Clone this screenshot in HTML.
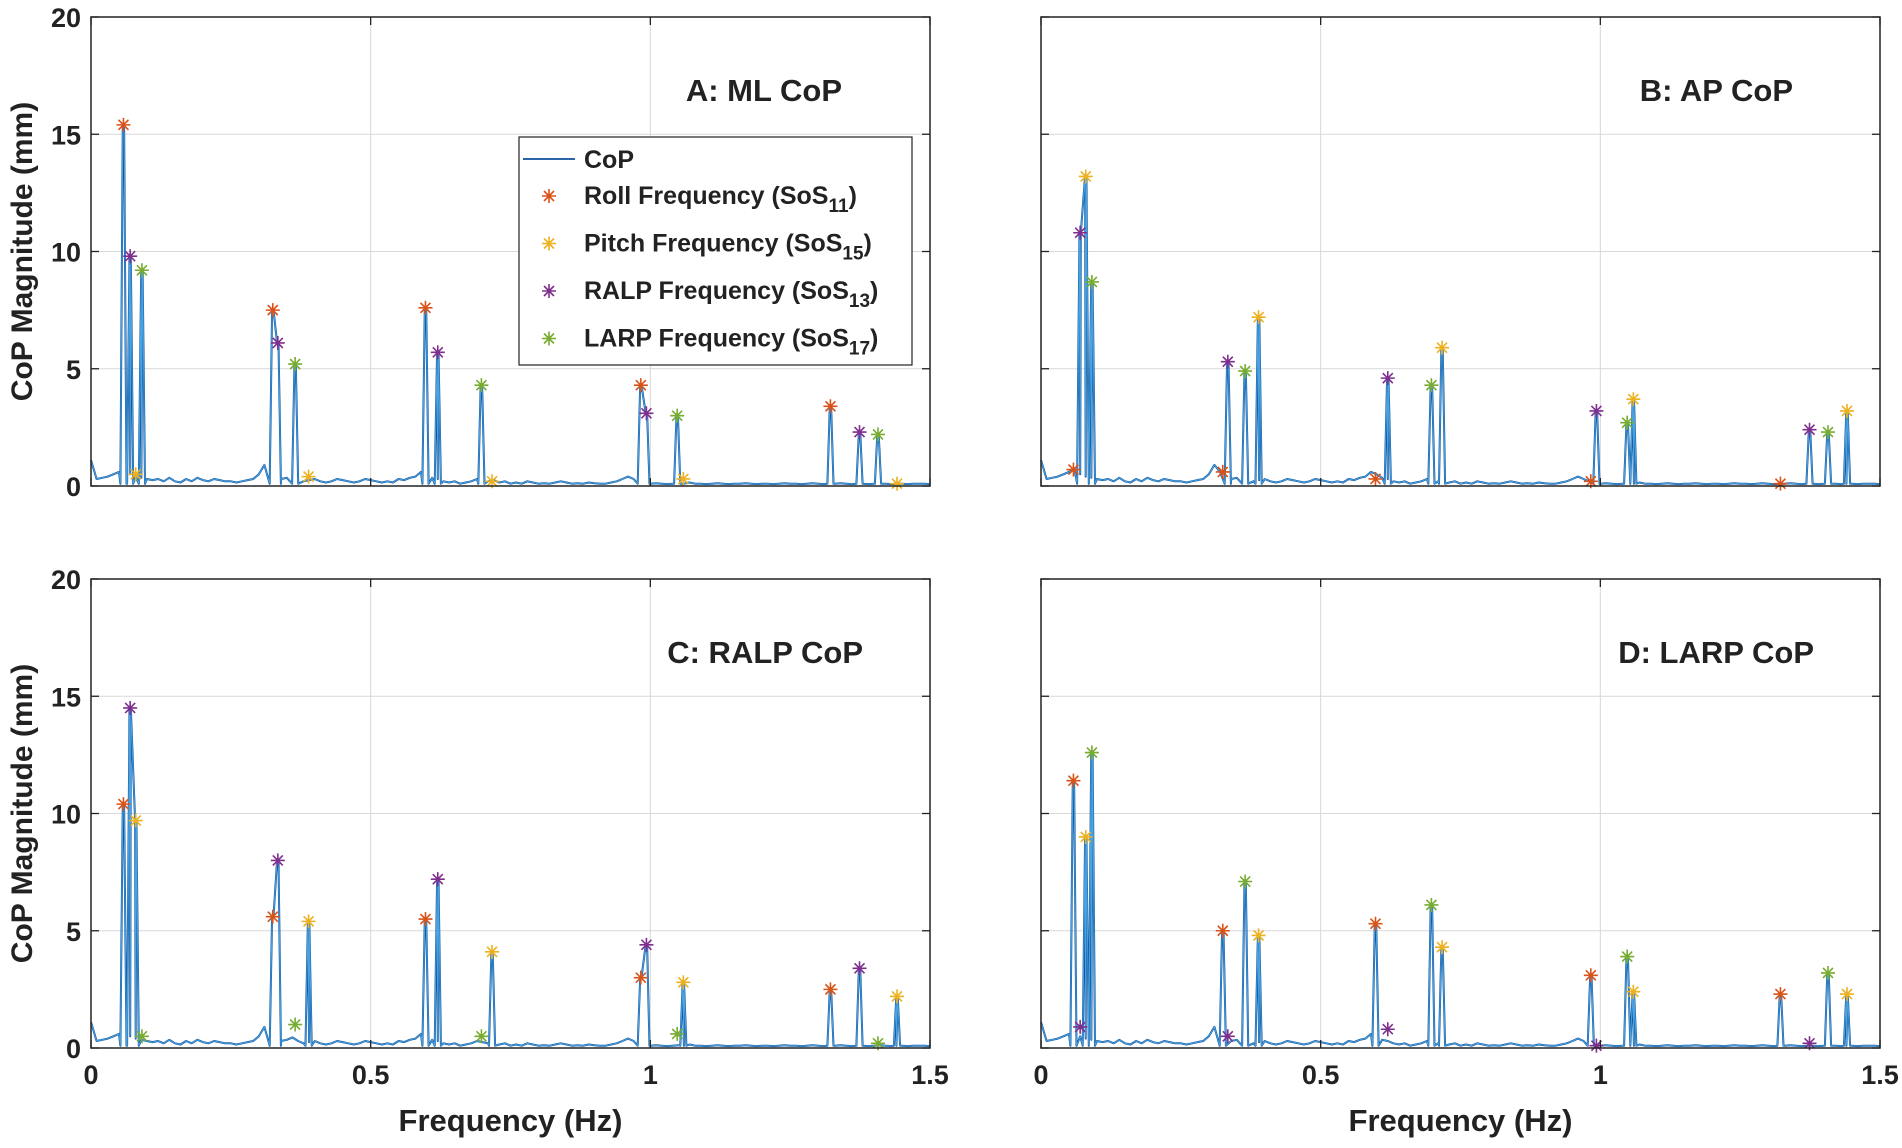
<!DOCTYPE html>
<html><head><meta charset="utf-8"><style>
body{margin:0;background:#fff;}
svg text{font-family:"Liberation Sans",Arial,sans-serif;font-weight:bold;fill:#222;}
</style></head><body>
<svg id="fig" width="1902" height="1143" viewBox="0 0 1902 1143" xmlns="http://www.w3.org/2000/svg"></svg>
<script>
// ---- data ----
const freqRoll  = [0.058, 0.325, 0.598, 0.983, 1.322];
const freqRalp  = [0.070, 0.334, 0.620, 0.993, 1.374];
const freqPitch = [0.080, 0.389, 0.717, 1.059, 1.441];
const freqLarp  = [0.091, 0.365, 0.698, 1.048, 1.407];

const aRoll  = [15.4, 7.5, 7.6, 4.3, 3.4];
const aPitch = [0.5, 0.4, 0.2, 0.3, 0.1];
const aRalp  = [9.8, 6.1, 5.7, 3.1, 2.3];
const aLarp  = [9.2, 5.2, 4.3, 3.0, 2.2];

const bRoll  = [0.7, 0.6, 0.3, 0.2, 0.1];
const bPitch = [13.2, 7.2, 5.9, 3.7, 3.2];
const bRalp  = [10.8, 5.3, 4.6, 3.2, 2.4];
const bLarp  = [8.7, 4.9, 4.3, 2.7, 2.3];

const cRoll  = [10.4, 5.6, 5.5, 3.0, 2.5];
const cPitch = [9.7, 5.4, 4.1, 2.8, 2.2];
const cRalp  = [14.5, 8.0, 7.2, 4.4, 3.4];
const cLarp  = [0.5, 1.0, 0.5, 0.6, 0.2];

const dRoll  = [11.4, 5.0, 5.3, 3.1, 2.3];
const dPitch = [9.0, 4.8, 4.3, 2.4, 2.3];
const dRalp  = [0.9, 0.5, 0.8, 0.1, 0.2];
const dLarp  = [12.6, 7.1, 6.1, 3.9, 3.2];

// baseline noise of the spectrum, every 0.01 Hz from 0 to 1.5
const noise = [1.1,0.3,0.35,0.4,0.5,0.6,0.7,0.5,0.4,0.35,0.3,0.25,0.3,0.2,0.35,0.2,0.15,0.3,0.2,0.35,0.25,0.2,0.3,0.25,0.2,0.2,0.15,0.2,0.25,0.3,0.5,0.9,0.6,0.4,0.3,0.35,0.45,0.3,0.2,0.25,
0.3,0.2,0.15,0.2,0.3,0.25,0.2,0.15,0.2,0.3,0.25,0.2,0.15,0.2,0.15,0.3,0.25,0.35,0.4,0.6,0.5,0.35,0.3,0.2,0.15,0.2,0.1,0.15,0.2,0.3,
0.25,0.2,0.25,0.15,0.2,0.1,0.15,0.1,0.2,0.15,0.1,0.12,0.1,0.15,0.2,0.15,0.1,0.12,0.1,0.15,0.12,0.1,0.1,0.15,0.2,0.3,0.4,0.3,0.2,0.15,
0.1,0.12,0.1,0.08,0.1,0.12,0.1,0.15,0.1,0.1,0.08,0.1,0.12,0.1,0.08,0.1,0.1,0.12,0.1,0.08,0.1,0.1,0.08,0.1,0.12,0.1,0.1,0.08,0.1,0.12,
0.1,0.08,0.1,0.1,0.12,0.1,0.08,0.1,0.1,0.08,0.1,0.12,0.1,0.08,0.1,0.1,0.08,0.1,0.1,0.1,0.08];

const xTicks = [0, 0.5, 1, 1.5];
const xTickLabels = ["0", "0.5", "1", "1.5"];
const yTicks = [0, 5, 10, 15, 20];
const yTickLabels = ["0", "5", "10", "15", "20"];

const COLORS = {roll:"#D95319", pitch:"#EDB120", ralp:"#7E2F8E", larp:"#77AC30"};
const NS = "http://www.w3.org/2000/svg";
const svg = document.getElementById("fig");
function mk(tag, attrs, parent){const e=document.createElementNS(NS,tag);for(const k in attrs)e.setAttribute(k,attrs[k]);(parent||svg).appendChild(e);return e;}

const panels = [
 {id:"a", title:"A: ML CoP", L:91, R:930, T:17, B:486, roll:aRoll, pitch:aPitch, ralp:aRalp, larp:aLarp, yl:true, xl:false, tx:842, ty:101},
 {id:"b", title:"B: AP CoP", L:1041, R:1880, T:17, B:486, roll:bRoll, pitch:bPitch, ralp:bRalp, larp:bLarp, yl:false, xl:false, tx:1793, ty:101},
 {id:"c", title:"C: RALP CoP", L:91, R:930, T:579, B:1048, roll:cRoll, pitch:cPitch, ralp:cRalp, larp:cLarp, yl:true, xl:true, tx:863, ty:663},
 {id:"d", title:"D: LARP CoP", L:1041, R:1880, T:579, B:1048, roll:dRoll, pitch:dPitch, ralp:dRalp, larp:dLarp, yl:false, xl:true, tx:1814, ty:663}
];

function star(g, cx, cy, color){
  const s=7, d=5;
  mk("path",{d:`M${cx-s},${cy}H${cx+s}M${cx},${cy-s}V${cy+s}M${cx-d},${cy-d}L${cx+d},${cy+d}M${cx-d},${cy+d}L${cx+d},${cy-d}`,stroke:color,"stroke-width":1.6,fill:"none"},g);
}

panels.forEach(p=>{
  const g = mk("g",{});
  
  
  const xs = f => p.L + (f/1.5)*(p.R-p.L);
  const ys = v => p.B - (v/20)*(p.B-p.T);
  xTicks.forEach(t=>{ if(t>0&&t<1.5){ const l=mk("line",{x1:xs(t),x2:xs(t),y1:p.T,y2:p.B,stroke:"#d8d8d8","stroke-width":1},g);
      }});
  yTicks.forEach(t=>{ if(t>0&&t<20){ const l=mk("line",{x1:p.L,x2:p.R,y1:ys(t),y2:ys(t),stroke:"#d8d8d8","stroke-width":1},g);
      }});
  const peaks=[];
  [[freqRoll,p.roll],[freqPitch,p.pitch],[freqRalp,p.ralp],[freqLarp,p.larp]].forEach(([fr,vals])=>fr.forEach((f,i)=>peaks.push([f,vals[i]])));
  const W=0.0055;
  const pts=[];
  noise.forEach((n,i)=>pts.push([i*0.01,n]));
  peaks.forEach(([f,v])=>{ if(v>1.2){ pts.push([f-W,0.1]); pts.push([f-0.0012,v]); pts.push([f+0.0012,v]); pts.push([f+W,0.1]); }});
  pts.sort((a,b)=>a[0]-b[0]);
  const cleaned=pts.filter(q=>!peaks.some(([f,v])=>v>1.2 && Math.abs(q[0]-f)<W-0.0001 && Math.abs(q[0]-f)>0.0013));
  const dstr = cleaned.map((q,i)=>(i?"L":"M")+xs(q[0]).toFixed(1)+","+ys(q[1]).toFixed(1)).join("");
  const line = mk("path",{d:dstr,fill:"none",stroke:"#0b4f9c","stroke-width":2,"stroke-linejoin":"round"},g);
  
  
  const hl = mk("path",{d:dstr,fill:"none",stroke:"#4aa3e0","stroke-width":1},g);
  
  
  [["roll",freqRoll,p.roll],["pitch",freqPitch,p.pitch],["ralp",freqRalp,p.ralp],["larp",freqLarp,p.larp]].forEach(([k,fr,vals])=>{
    fr.forEach((f,i)=>{ const mg=mk("g",{},g);
      
      
      star(mg, xs(f), ys(vals[i]), COLORS[k]); });
  });
  const box = mk("rect",{x:p.L,y:p.T,width:p.R-p.L,height:p.B-p.T,fill:"none",stroke:"#222","stroke-width":1.5},g);
  
  
  xTicks.forEach((t,i)=>{
    mk("line",{x1:xs(t),x2:xs(t),y1:p.B,y2:p.B-8,stroke:"#222","stroke-width":1.3},g);
    mk("line",{x1:xs(t),x2:xs(t),y1:p.T,y2:p.T+8,stroke:"#222","stroke-width":1.3},g);
    if(p.xl){ const tx=mk("text",{x:xs(t),y:p.B+36,"text-anchor":"middle","font-size":27},g); tx.textContent=xTickLabels[i];
        }
  });
  yTicks.forEach((t,i)=>{
    mk("line",{x1:p.L,x2:p.L+8,y1:ys(t),y2:ys(t),stroke:"#222","stroke-width":1.3},g);
    mk("line",{x1:p.R,x2:p.R-8,y1:ys(t),y2:ys(t),stroke:"#222","stroke-width":1.3},g);
    if(p.yl){ const tx=mk("text",{x:p.L-10,y:ys(t)+10,"text-anchor":"end","font-size":27},g); tx.textContent=yTickLabels[i];
        }
  });
  if(p.yl){ const yt=mk("text",{x:0,y:0,"text-anchor":"middle","font-size":30,transform:`translate(32,${(p.T+p.B)/2}) rotate(-90)`},g);
    yt.textContent="CoP Magnitude (mm)";   }
  if(p.xl){ const xt=mk("text",{x:(p.L+p.R)/2,y:1131,"text-anchor":"middle","font-size":31},g);
    xt.textContent="Frequency (Hz)";   }
  const ti=mk("text",{x:p.tx,y:p.ty,"text-anchor":"end","font-size":31},g);
  ti.textContent=p.title;  
});

const lg = mk("g",{});


mk("rect",{x:519,y:137,width:393,height:228,fill:"#fff",stroke:"#222","stroke-width":1.2},lg);
mk("line",{x1:523,x2:575,y1:159,y2:159,stroke:"#0b4f9c","stroke-width":1.8},lg);
const lt0=mk("text",{x:584,y:168,"font-size":25},lg); lt0.textContent="CoP";
 
const legItems=[["roll","Roll Frequency (SoS","11",")"],["pitch","Pitch Frequency (SoS","15",")"],["ralp","RALP Frequency (SoS","13",")"],["larp","LARP Frequency (SoS","17",")"]];
legItems.forEach((it,i)=>{
  const y=196+i*47.5;
  star(lg,549,y,COLORS[it[0]]);
  const t=mk("text",{x:584,y:y+8,"font-size":25},lg);
  
  
  t.appendChild(document.createTextNode(it[1]));
  const s=mk("tspan",{dy:8,"font-size":19},t); s.textContent=it[2];
  const c=mk("tspan",{dy:-8},t); c.textContent=it[3];
});
</script>
</body></html>
